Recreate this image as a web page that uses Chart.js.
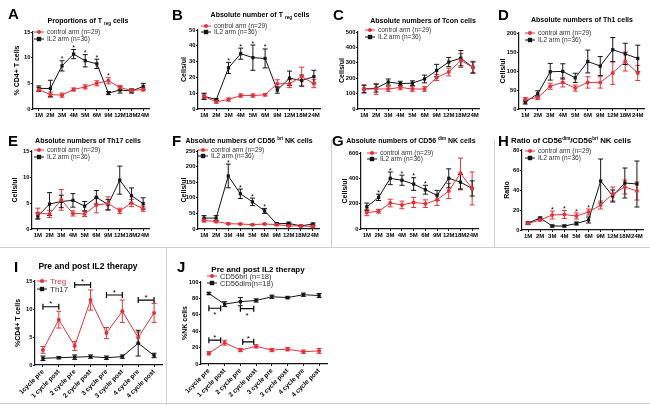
<!DOCTYPE html>
<html><head><meta charset="utf-8">
<script src="https://cdn.jsdelivr.net/npm/chart.js@4.4.0/dist/chart.umd.min.js"></script>
<style>
body{margin:0;background:#fff}
#fig{position:relative;width:650px;height:405px;overflow:hidden;background:#fff;font-family:'Liberation Sans',Arial,sans-serif}
#fig canvas{position:absolute}
.lbl{position:absolute;font-weight:bold;font-size:15px;line-height:15px}
.ttl{position:absolute;width:240px;text-align:center;font-weight:bold;font-size:7px;line-height:9px;white-space:nowrap}
.ttl sup,.ttl sub{font-size:4.5px;vertical-align:0;position:relative}
.ttl sup{top:-3px}
.ttl sub{top:2px}
.sep{position:absolute;background:#cfcfcf}
</style></head><body><div id="fig"></div><script>
const months = ['1M','2M','3M','4M','5M','6M','9M','12M','18M','24M']
const cycles = ['1cycle pre','1 cycle post','2 cycle pre','2 cycle post','3 cycle pre','3 cycle post','4 cycle pre','4 cycle post']

// A - Treg proportions
const aCtrl = [3.8,2.8,2.7,3.8,4.3,5.0,5.5,4.2,3.6,3.8]
const aCtrlErr = [0.4,0.5,0.4,0.3,0.4,0.5,0.6,0.4,0.3,0.3]
const aIl2 = [4.0,4.0,8.4,10.7,9.4,8.8,3.1,3.7,3.5,4.4]
const aIl2Err = [0.5,1.6,1.0,0.9,1.2,0.9,0.3,0.6,0.4,0.6]
// B - Treg absolute
const bCtrl = [8,4.5,6,8.5,8.5,9,16,16,20.5,16]
const bCtrlErr = [1.5,0.8,1,1,1,0.8,2.5,2.5,6,2.5]
const bIl2 = [8,6,26,35,32.5,32,12,19.5,18,20.5]
const bIl2Err = [2,0.5,3.5,3.5,8,6,2,4.5,3.5,4]
// C - Tcon
const cCtrl = [130,130,130,140,130,130,205,240,315,270]
const cCtrlErr = [25,35,15,15,15,15,20,25,45,40]
const cIl2 = [130,135,175,165,168,195,250,305,330,270]
const cIl2Err = [25,25,20,15,15,25,40,30,50,35]
// D - Th1
const dCtrl = [25,30,60,70,55,70,70,95,125,95]
const dCtrlErr = [5,5,8,12,8,15,15,30,25,20]
const dIl2 = [18,40,98,99,82,125,113,156,145,133]
const dIl2Err = [5,8,22,20,12,30,25,32,28,35]
// E - Th17
const eCtrl = [3.0,2.9,5.6,3.0,2.9,4.6,4.9,3.5,5.0,3.9]
const eCtrlErr = [1.0,0.7,2.0,0.5,0.5,1.5,1.3,0.5,0.7,0.5]
const eIl2 = [2.5,4.8,5.3,5.5,4.4,6.1,4.7,9.4,6.4,4.9]
const eIl2Err = [0.6,2.2,1.2,1.3,0.9,1.3,1.0,2.7,1.5,1.1]
// F - CD56bri NK
const fCtrl = [27,24,17,16,14,16,14,10,10,8]
const fCtrlErr = [5,4,3,2,2,2,2,2,2,2]
const fIl2 = [35,35,170,113,87,58,17,18,10,16]
const fIl2Err = [8,8,38,15,12,8,3,4,2,3]
// G - CD56dim NK
const gCtrl = [130,140,205,190,210,200,230,300,440,320]
const gCtrlErr = [25,15,30,30,40,30,45,60,120,130]
const gIl2 = [175,250,400,385,355,310,265,400,370,320]
const gIl2Err = [30,25,50,40,50,35,40,75,60,60]
// H - ratio
const hCtrl = [6.5,10,15,15.5,14,18,25,36,43,39]
const hCtrlErr = [1,1,4,4,3,3,4,7,7,9]
const hIl2 = [7,12,4,4,6.5,10,49,34,47,46]
const hIl2Err = [1,1,1,1,1.5,3,22,6,15,23]
// I - pre/post Treg, Th17
const iTreg = [2.7,8.1,3.4,11.6,5.7,9.6,4.9,9.3]
const iTregErr = [0.6,1.5,0.8,1.8,1.0,2.0,1.0,1.7]
const iTh17 = [1.2,1.3,1.4,1.5,1.3,1.5,3.9,1.7]
const iTh17Err = [0.4,0.2,0.4,0.3,0.3,0.3,2.3,0.4]
const iBrackets = [[0,1,10.4,'up'],[2,3,14.3,'up'],[4,5,12.5,'up'],[6,7,11.6,'up']]
// J - pre/post NK subsets
const jBri = [13,26,17,21.5,17,18,15,16]
const jBriErr = [2,3,2,2,2,2,2,3]
const jDim = [86,73,76,77.5,82,81,84.5,83.5]
const jDimErr = [1.5,3,5,2,2,1.5,2,2.5]
const jBrackets = [[0,0.75,29,'up'],[2.15,2.85,27,'up'],[0,0.75,68,'down'],[2,2.85,67.5,'down']]

const RED = '#e3323a'
const BLK = '#151515'
const FONT = "'Liberation Sans', Arial, sans-serif"
Chart.defaults.font.family = FONT

function arm(label, data, err, red, textColor) {
    return {
        label, data, err, textColor: textColor || '#333',
        borderColor: red ? RED : BLK, backgroundColor: red ? RED : BLK,
        borderWidth: 1, pointStyle: red ? 'circle' : 'rect',
        pointRadius: red ? 2 : 2.3, pointBorderWidth: 0, tension: 0
    }
}
const ctrlArm = (d, e) => arm('control arm (n=29)', d, e, true)
const il2Arm = (d, e) => arm('IL2 arm (n=36)', d, e, false)

const panels = [
    { letter:'A', lp:[8,6], title:'Proportions of T <sub>reg</sub> cells', tc:[88,21], labels:months,
      sets:[ctrlArm(aCtrl,aCtrlErr), il2Arm(aIl2,aIl2Err)], max:15, step:5, ytitle:'% CD4+ T cells', ytx:17,
      x0:33, x1:149, y0:32, y1:109, leg:[1,0,7,6.5], stars:[2,3,4,5,6] },
    { letter:'B', lp:[172,7], title:'Absolute number of T <sub>reg</sub> cells', tc:[260,15], labels:months,
      sets:[ctrlArm(bCtrl,bCtrlErr), il2Arm(bIl2,bIl2Err)], max:50, step:10, ytitle:'Cells/ul', ytx:184,
      x0:198, x1:320, y0:30, y1:109, leg:[3,-4,6,6.5], stars:[2,3,4,5] },
    { letter:'C', lp:[333,7], title:'Absolute numbers of Tcon cells', tc:[423,21], labels:months,
      sets:[ctrlArm(cCtrl,cCtrlErr), il2Arm(cIl2,cIl2Err)], max:500, step:100, ytitle:'Cells/ul', ytx:342,
      x0:358, x1:479, y0:32, y1:109, leg:[7,-2,7,6.5], stars:[] },
    { letter:'D', lp:[498,7], title:'Absolute numbers of Th1 cells', tc:[582,20], labels:months,
      sets:[ctrlArm(dCtrl,dCtrlErr), il2Arm(dIl2,dIl2Err)], max:200, step:50, ytitle:'Cells/ul', ytx:503,
      x0:519, x1:644, y0:33, y1:109, leg:[6,0,7,6.5], stars:[] },
    { letter:'E', lp:[8,133], title:'Absolute numbers of Th17 cells', tc:[88,141], labels:months,
      sets:[ctrlArm(eCtrl,eCtrlErr), il2Arm(eIl2,eIl2Err)], max:15, step:5, ytitle:'Cells/ul', ytx:15,
      x0:32, x1:149, y0:151, y1:229, leg:[2,-1,7,6.5], stars:[] },
    { letter:'F', lp:[172,133], title:'Absolute numbers of CD56 <sup>bri</sup> NK cells', tc:[249,141], labels:months,
      sets:[ctrlArm(fCtrl,fCtrlErr), il2Arm(fIl2,fIl2Err)], max:250, step:50, ytitle:'Cells/ul', ytx:184,
      x0:198, x1:319, y0:151, y1:229, leg:[0,-1,6,6.5], stars:[2,3,4,5] },
    { letter:'G', lp:[332,133], title:'Absolute numbers of CD56 <sup>dim</sup> NK cells', tc:[411,141], labels:months,
      sets:[ctrlArm(gCtrl,gCtrlErr), il2Arm(gIl2,gIl2Err)], max:600, step:200, ytitle:'Cells/ul', ytx:345,
      x0:361, x1:478, y0:153, y1:229, leg:[6,0,6,6.5], stars:[1,2,3,4,5] },
    { letter:'H', lp:[498,133], title:'Ratio of CD56<sup>dim</sup>/CD56<sup>bri</sup> NK cells', tc:[571,141], tsize:7.8, labels:months,
      sets:[ctrlArm(hCtrl,hCtrlErr), il2Arm(hIl2,hIl2Err)], max:80, step:20, ytitle:'Ratio', ytx:507,
      x0:522, x1:643, y0:150, y1:230, leg:[3,1,7,6.5], stars:[2,3,4,5] },
    { letter:'I', lp:[14,259], title:'Pre and post IL2 therapy', tc:[88,267], tsize:8.5, labels:cycles,
      sets:[arm('Treg',iTreg,iTregErr,true,RED), arm('Th17',iTh17,iTh17Err,false)], max:15, step:5, ytitle:'%CD4+ T cells', ytx:18,
      x0:35, x1:162, y0:281, y1:365, leg:[2,0,8,8], brackets:iBrackets },
    { letter:'J', lp:[177,259], title:'Pre and post IL2 therapy', tc:[258,270], tsize:8, labels:cycles,
      sets:[arm('CD56bri (n=18)',jBri,jBriErr,true), arm('CD56dim(n=18)',jDim,jDimErr,false)], max:100, step:20, ytitle:'%NK cells', ytx:185,
      x0:201, x1:327, y0:282, y1:364, leg:[6,-6,7,7.5], brackets:jBrackets }
]

function drawMarker(ctx, ds, x, y) {
    ctx.fillStyle = ds.borderColor
    if (ds.pointStyle === 'rect') {
        ctx.fillRect(x - 2.2, y - 2.2, 4.4, 4.4)
    } else {
        ctx.beginPath()
        ctx.arc(x, y, 2, 0, Math.PI * 2)
        ctx.fill()
    }
}

const errorBars = {
    id: 'errorBars',
    beforeDatasetsDraw(chart) {
        const ctx = chart.ctx
        const ys = chart.scales.y
        chart.data.datasets.forEach((ds, i) => {
            const meta = chart.getDatasetMeta(i)
            ctx.save()
            ctx.strokeStyle = ds.borderColor
            ctx.lineWidth = 1
            meta.data.forEach((pt, j) => {
                const top = ys.getPixelForValue(ds.data[j] + ds.err[j])
                const bot = ys.getPixelForValue(ds.data[j] - ds.err[j])
                ctx.beginPath()
                ctx.moveTo(pt.x, top); ctx.lineTo(pt.x, bot)
                ctx.moveTo(pt.x - 2.5, top); ctx.lineTo(pt.x + 2.5, top)
                ctx.moveTo(pt.x - 2.5, bot); ctx.lineTo(pt.x + 2.5, bot)
                ctx.stroke()
            })
            ctx.restore()
        })
    }
}

function insideLegend(lx, ly, gap, size) {
    return {
        id: 'insideLegend',
        afterDraw(chart) {
            const ctx = chart.ctx
            const a = chart.chartArea
            chart.data.datasets.forEach((ds, i) => {
                const x = a.left + lx
                const y = a.top + ly + i * gap
                ctx.save()
                ctx.strokeStyle = ds.borderColor
                ctx.lineWidth = 1
                ctx.beginPath(); ctx.moveTo(x, y); ctx.lineTo(x + 10, y); ctx.stroke()
                drawMarker(ctx, ds, x + 5, y)
                ctx.fillStyle = ds.textColor
                ctx.font = size + 'px ' + FONT
                ctx.textBaseline = 'middle'
                ctx.fillText(ds.label, x + 13, y + 0.5)
                ctx.restore()
            })
        }
    }
}

function marks(p) {
    return {
        id: 'marks',
        afterDatasetsDraw(chart) {
            const ctx = chart.ctx
            const xs = chart.scales.x
            const ys = chart.scales.y
            ctx.save()
            ctx.fillStyle = '#000'
            ctx.strokeStyle = '#000'
            ctx.lineWidth = 1.2
            ctx.font = '7px ' + FONT
            ctx.textAlign = 'center'
            const stars = p.stars || []
            stars.forEach(i => {
                let top = Infinity
                chart.data.datasets.forEach(ds => {
                    top = Math.min(top, ys.getPixelForValue(ds.data[i] + ds.err[i]))
                })
                ctx.fillText('*', xs.getPixelForValue(i), top + 0.5)
            })
            const brackets = p.brackets || []
            brackets.forEach(b => {
                const xa = xs.getPixelForValue(b[0])
                const xb = xs.getPixelForValue(b[1])
                const y = ys.getPixelForValue(b[2])
                ctx.beginPath()
                ctx.moveTo(xa, y); ctx.lineTo(xb, y)
                ctx.moveTo(xa, y - 3); ctx.lineTo(xa, y + 3)
                ctx.moveTo(xb, y - 3); ctx.lineTo(xb, y + 3)
                ctx.stroke()
                ctx.font = '8px ' + FONT
                ctx.fillText('*', (xa + xb) / 2, b[3] === 'up' ? y - 0.5 : y + 9)
            })
            ctx.restore()
        }
    }
}

const fig = document.getElementById('fig')

function addDiv(cls, html, style) {
    const d = document.createElement('div')
    d.className = cls
    d.innerHTML = html
    Object.assign(d.style, style)
    fig.appendChild(d)
}

// panel separators
addDiv('sep', '', { left: '0px', top: '247px', width: '650px', height: '1px' })
addDiv('sep', '', { left: '331px', top: '140px', width: '1px', height: '107px' })
addDiv('sep', '', { left: '494px', top: '140px', width: '1px', height: '107px' })
addDiv('sep', '', { left: '166px', top: '247px', width: '1px', height: '158px' })
addDiv('sep', '', { left: '0px', top: '403px', width: '650px', height: '1px' })

panels.forEach(p => {
    const rot = p.labels === cycles
    const xh = rot ? 42 : 12
    const left = p.ytx - 4
    const top = p.y0 - 14
    const padR = 10
    const w = p.x1 + padR - left
    const h = p.y1 + xh - top
    const cv = document.createElement('canvas')
    cv.width = w
    cv.height = h
    cv.style.left = left + 'px'
    cv.style.top = top + 'px'
    fig.appendChild(cv)

    addDiv('lbl', p.letter, { left: p.lp[0] + 'px', top: p.lp[1] + 'px' })
    addDiv('ttl', p.title, { left: (p.tc[0] - 120) + 'px', top: (p.tc[1] - 5) + 'px', fontSize: (p.tsize || 7) + 'px' })

    const axisGrid = { drawOnChartArea: false, color: BLK, tickLength: 2, lineWidth: 1 }
    const axisBorder = { color: BLK, width: 1.2 }
    new Chart(cv, {
        type: 'line',
        data: { labels: p.labels, datasets: p.sets },
        options: {
            responsive: false,
            animation: false,
            devicePixelRatio: 1,
            layout: { padding: { left: 0, top: 14, right: padR, bottom: 0 } },
            plugins: { legend: { display: false }, tooltip: { enabled: false } },
            scales: {
                x: {
                    offset: true,
                    grid: { ...axisGrid, offset: false },
                    border: axisBorder,
                    ticks: {
                        color: '#000', autoSkip: false, padding: 1,
                        maxRotation: rot ? 45 : 0, minRotation: rot ? 45 : 0,
                        font: { size: rot ? 6.5 : 6, weight: 'bold' }
                    },
                    afterFit(s) { s.height = xh; s.paddingLeft = 0; s.paddingRight = 0 }
                },
                y: {
                    min: 0, max: p.max,
                    grid: axisGrid,
                    border: axisBorder,
                    ticks: { stepSize: p.step, color: '#000', padding: 0.5, font: { size: 5.8, weight: 'bold' } },
                    title: { display: true, text: p.ytitle, color: '#000', padding: 0, font: { size: 7, weight: 'bold' } },
                    afterFit(s) { s.width = p.x0 - left }
                }
            }
        },
        plugins: [errorBars, insideLegend(p.leg[0], p.leg[1], p.leg[2], p.leg[3]), marks(p)]
    })
})
</script></body></html>
